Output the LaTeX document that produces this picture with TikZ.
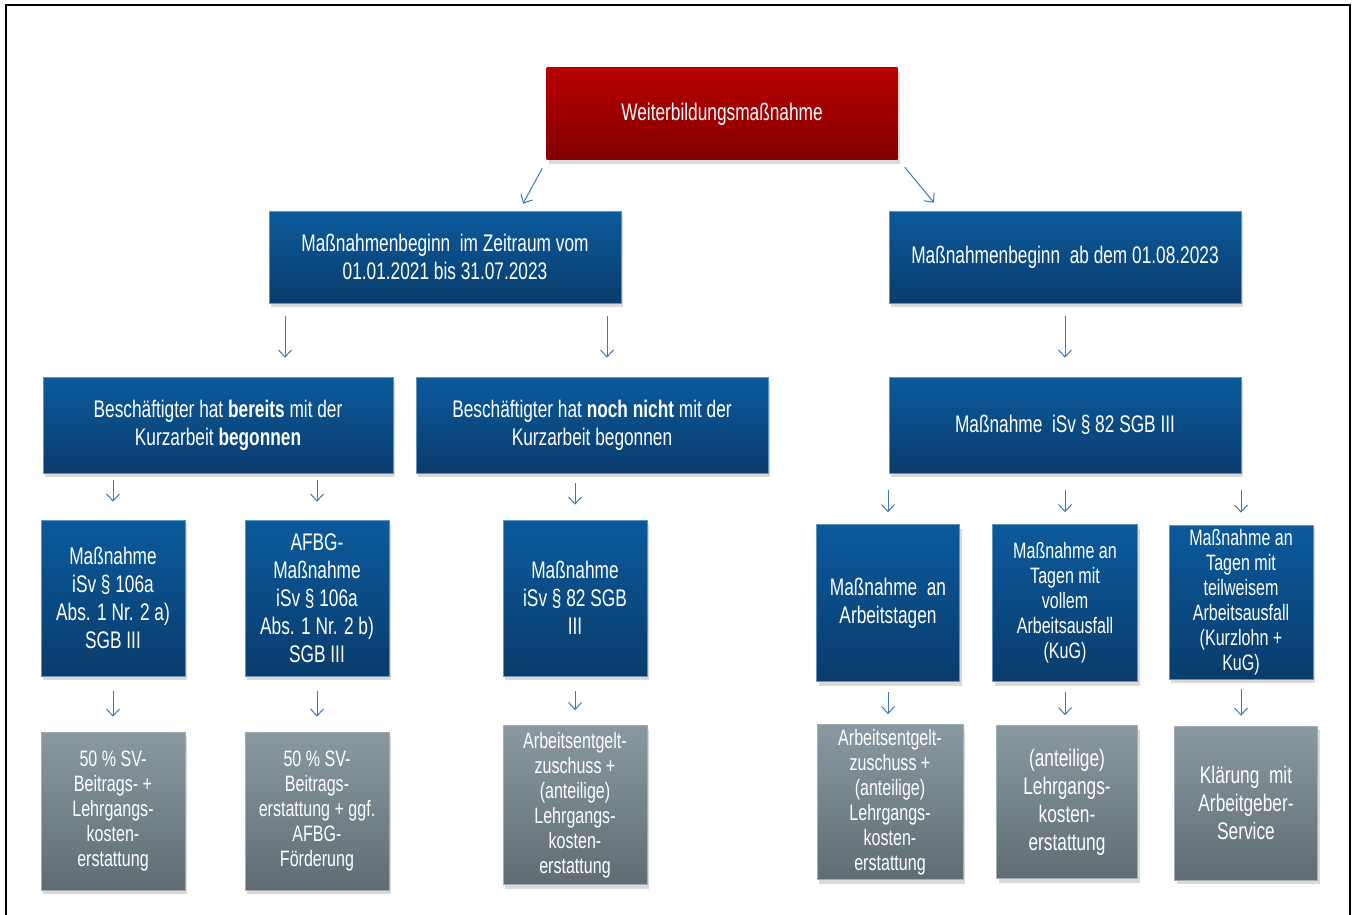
\documentclass[tikz,border=0pt]{standalone}
\usepackage{fontspec}
\setmainfont[FakeStretch=0.72]{Liberation Sans}
\usetikzlibrary{arrows.meta,shadows,calc}

\definecolor{redtop}{HTML}{B80000}
\definecolor{redbot}{HTML}{820000}
\definecolor{bluetop}{HTML}{0B5A9C}
\definecolor{bluebot}{HTML}{0A3C6C}
\definecolor{greytop}{HTML}{8A99A1}
\definecolor{greybot}{HTML}{5F6C74}
\definecolor{arrblue}{HTML}{3A7AB8}

\begin{document}
\begin{tikzpicture}[x=1pt,y=-1pt,
  box/.style={text=white, align=center, inner sep=0pt, font=\fontsize{24}{28}\selectfont,
    drop shadow={opacity=0.3, shadow xshift=2pt, shadow yshift=-4pt}},
  redbox/.style={box, top color=redtop, bottom color=redbot},
  bluebox/.style={box, top color=bluetop, bottom color=bluebot, draw=bluetop!65!white, line width=0.6pt},
  greybox/.style={box, top color=greytop, bottom color=greybot, draw=greytop!80!white, line width=0.6pt},
  small/.style={font=\fontsize{22.3}{25}\selectfont},
  arr/.style={draw=arrblue, line width=1pt, -{Straight Barb[length=7pt,width=13pt]}}]

  \useasboundingbox (0,0) rectangle (1352,915);
  \draw[line width=2pt] (6,915) -- (6,5) -- (1350,5) -- (1350,915);

  \node[redbox, minimum width=351pt, minimum height=92pt] (top) at (722,114) {Weiterbildungsmaßnahme};

  \node[bluebox, minimum width=352pt, minimum height=92pt] (ml) at (445,257) {Maßnahmenbeginn\ \ im Zeitraum vom\\01.01.2021 bis 31.07.2023};
  \node[bluebox, minimum width=352pt, minimum height=92pt] (mr) at (1065,257) {Maßnahmenbeginn\ \ ab dem 01.08.2023};

  \node[bluebox, minimum width=350pt, minimum height=96pt] (b1) at (218,425) {Beschäftigter hat \textbf{bereits} mit der\\Kurzarbeit \textbf{begonnen}};
  \node[bluebox, minimum width=352pt, minimum height=96pt] (b2) at (592,425) {Beschäftigter hat \textbf{noch nicht} mit der\\Kurzarbeit begonnen};
  \node[bluebox, minimum width=352pt, minimum height=96pt] (b3) at (1065,425) {Maßnahme\ \ iSv § 82 SGB III};

  \node[bluebox, minimum width=144pt, minimum height=156pt] (m1) at (113,598) {Maßnahme\\iSv § 106a\\Abs. 1 Nr. 2 a)\\SGB III};
  \node[bluebox, minimum width=144pt, minimum height=156pt] (m2) at (317,598) {AFBG-\\Maßnahme\\iSv § 106a\\Abs. 1 Nr. 2 b)\\SGB III};
  \node[bluebox, minimum width=144pt, minimum height=156pt] (m3) at (575,598) {Maßnahme\\iSv § 82 SGB\\III};
  \node[bluebox, minimum width=143pt, minimum height=157pt] (m4) at (888,603) {Maßnahme\ \ an\\Arbeitstagen};
  \node[bluebox, small, minimum width=145pt, minimum height=157pt] (m5) at (1065,603) {Maßnahme an\\Tagen mit\\vollem\\Arbeitsausfall\\(KuG)};
  \node[bluebox, small, minimum width=144pt, minimum height=154pt] (m6) at (1241,602) {Maßnahme an\\Tagen mit\\teilweisem\\Arbeitsausfall\\(Kurzlohn +\\KuG)};

  \node[greybox, small, minimum width=144pt, minimum height=158pt] (g1) at (113,811) {50 \% SV-\\Beitrags- +\\Lehrgangs-\\kosten-\\erstattung};
  \node[greybox, small, minimum width=144pt, minimum height=158pt] (g2) at (317,811) {50 \% SV-\\Beitrags-\\erstattung + ggf.\\AFBG-\\Förderung};
  \node[greybox, small, minimum width=144pt, minimum height=159pt] (g3) at (575,805) {Arbeitsentgelt-\\zuschuss +\\(anteilige)\\Lehrgangs-\\kosten-\\erstattung};
  \node[greybox, small, minimum width=146pt, minimum height=155pt] (g4) at (890,802) {Arbeitsentgelt-\\zuschuss +\\(anteilige)\\Lehrgangs-\\kosten-\\erstattung};
  \node[greybox, minimum width=141pt, minimum height=153pt] (g5) at (1067,802) {(anteilige)\\Lehrgangs-\\kosten-\\erstattung};
  \node[greybox, minimum width=143pt, minimum height=154pt] (g6) at (1246,803) {Klärung\ \ mit\\Arbeitgeber-\\Service};

  \draw[arr] ($(top.south west)+(-4,8)$) -- ($(ml.north)+(78,-7)$);
  \draw[arr] ($(top.south east)+(7,7)$) -- ($(mr.north)+(-131,-8)$);

  \draw[arr] ($(ml.south)+(-160,13)$) -- ($(b1.north)+(67,-19)$);
  \draw[arr] ($(ml.south)+(162,13)$) -- ($(b2.north)+(15,-19)$);
  \draw[arr, shorten <=13pt, shorten >=19pt] (mr.south) -- (b3.north);

  \draw[arr, shorten <=7pt, shorten >=18pt] (b1.south -| m1.north) -- (m1.north);
  \draw[arr, shorten <=7pt, shorten >=18pt] (b1.south -| m2.north) -- (m2.north);
  \draw[arr, shorten <=10pt, shorten >=15pt] (b2.south -| m3.north) -- (m3.north);
  \foreach \m in {m4,m5,m6}
    \draw[arr, shorten <=17pt, shorten >=12pt] (b3.south -| \m.north) -- (\m.north);

  \foreach \m/\g in {m1/g1,m2/g2,m3/g3}
    \draw[arr, shorten <=15pt, shorten >=15pt] (\m.south) -- (\m.south |- \g.north);
  \foreach \m/\g in {m4/g4,m5/g5,m6/g6}
    \draw[arr, shorten <=10pt, shorten >=10pt] (\m.south) -- (\m.south |- \g.north);
\end{tikzpicture}
\end{document}
